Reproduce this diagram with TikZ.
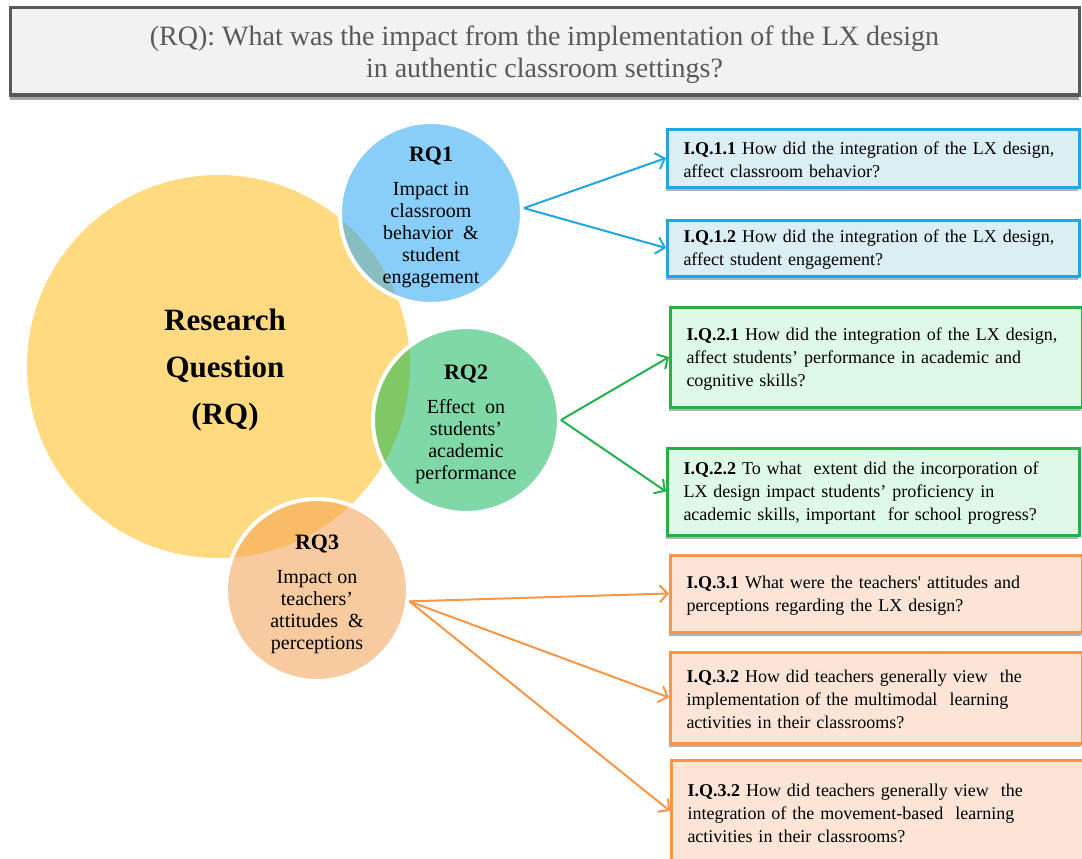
\documentclass[tikz,border=0pt]{standalone}
\usepackage{fontspec}
\setmainfont{Liberation Serif}
\usetikzlibrary{arrows.meta,shadows}

\definecolor{rqyellow}{HTML}{FFDA80}
\definecolor{rqblue}{HTML}{89CDF9}
\definecolor{ovblue}{HTML}{86BEC1}
\definecolor{rqgreen}{HTML}{80D8A9}
\definecolor{ovgreen}{HTML}{80C866}
\definecolor{rqorange}{HTML}{F8CAA0}
\definecolor{ovorange}{HTML}{F9BB66}
\definecolor{lnblue}{HTML}{20A6E6}
\definecolor{lngreen}{HTML}{22B24C}
\definecolor{lnorange}{HTML}{F79646}
\definecolor{bxblue}{HTML}{DAEEF3}
\definecolor{bxgreen}{HTML}{DEF9E6}
\definecolor{bxorange}{HTML}{FCE5D7}
\definecolor{titlegray}{HTML}{595959}
\definecolor{titlefill}{HTML}{F2F2F2}

% bold circle heading; the strut lowers the text block a little in its circle
\newcommand{\rqname}[1]{{\bfseries\fontsize{22pt}{22pt}\selectfont\rule{0pt}{23pt}#1}}
% bold question number with a strut that lowers the text in its box
\newcommand{\iqnum}[1]{\rule{0pt}{16.5pt}\textbf{#1}}

\begin{document}
\begin{tikzpicture}[x=1pt,y=-1pt,
  titlebox/.style={rectangle, fill=titlefill, draw=titlegray, line width=3pt,
    minimum width=1069pt, minimum height=87pt, text=titlegray, align=center,
    font=\fontsize{28pt}{32pt}\selectfont,
    drop shadow={shadow xshift=0pt, shadow yshift=-5pt, opacity=0.35, fill=black}},
  mainq/.style={circle, fill=rqyellow, minimum size=383pt, inner sep=0pt},
  maintext/.style={align=center, font=\bfseries\fontsize{31pt}{47pt}\selectfont},
  subq/.style={circle, minimum size=#1, inner sep=0pt, draw=white, line width=4pt,
    align=center, font=\fontsize{20pt}{22pt}\selectfont},
  iqbox/.style={rectangle, line width=3pt, anchor=west, inner xsep=16pt, inner ysep=3pt,
    text width=380pt, align=left, font=\fontsize{18pt}{23pt}\selectfont,
    drop shadow={shadow xshift=-2pt, shadow yshift=-4pt, opacity=0.3, fill=black}},
  bluebox/.style={iqbox, fill=bxblue, draw=lnblue},
  greenbox/.style={iqbox, fill=bxgreen, draw=lngreen},
  orangebox/.style={iqbox, fill=bxorange, draw=lnorange},
  conn/.style={line width=2pt, -{Straight Barb[length=8pt,width=17pt]}}
]
\useasboundingbox (0,0) rectangle (1082,859);

% overarching research question
\node[titlebox] (title) at (544.5,51.5)
  {\rule{0pt}{27pt}(RQ): What was the impact from the implementation of the LX design\\
   in authentic classroom settings?};

% main circle
\node[mainq] (rq) at (218.5,366.5) {};
\node[maintext] (rqt) at (225,370) {Research\\Question\\(RQ)};

% sub-question circles, each tinted where it overlaps the main circle
\node[subq=182pt, fill=rqblue,
  path picture={\fill[ovblue] (rq.center) circle (191.5pt);}] (rq1) at (431,213)
  {\rqname{RQ1}\\[12pt]Impact in\\classroom\\behavior \ \&\\student\\engagement};
\node[subq=186pt, fill=rqgreen,
  path picture={\fill[ovgreen] (rq.center) circle (191.5pt);}] (rq2) at (466,420)
  {\rqname{RQ2}\\[12pt]Effect \ on\\students’\\academic\\performance};
\node[subq=182pt, fill=rqorange,
  path picture={\fill[ovorange] (rq.center) circle (191.5pt);}] (rq3) at (317,590)
  {\rqname{RQ3}\\[12pt]Impact on\\teachers’\\attitudes \ \&\\perceptions};

% investigation questions
\node[bluebox, minimum height=58pt] (iq11) at (666,158)
  {\iqnum{I.Q.1.1} How did the integration of the LX design,\\affect classroom behavior?};
\node[bluebox, minimum height=56pt] (iq12) at (666,248)
  {\iqnum{I.Q.1.2} How did the integration of the LX design,\\affect student engagement?};
\node[greenbox, minimum height=100pt] (iq21) at (669,357)
  {\iqnum{I.Q.2.1} How did the integration of the LX design,\\affect students’ performance in academic and\\cognitive skills?};
\node[greenbox, minimum height=87pt] (iq22) at (666,491.5)
  {\iqnum{I.Q.2.2} To what \ extent did the incorporation of\\LX design impact students’ proficiency in\\academic skills, important \ for school progress?};
\node[orangebox, minimum height=77pt] (iq31) at (669,593.5)
  {\iqnum{I.Q.3.1} What were the teachers\textquotesingle\ attitudes and\\perceptions regarding the LX design?};
\node[orangebox, minimum height=91pt] (iq32) at (669,697.5)
  {\iqnum{I.Q.3.2} How did teachers generally view \ the\\implementation of the multimodal \ learning\\activities in their classrooms?};
\node[orangebox, minimum height=102pt] (iq33) at (670,811)
  {\iqnum{I.Q.3.2} How did teachers generally view \ the\\integration of the movement-based \ learning\\activities in their classrooms?};

% connectors
\draw[conn, lnblue] (rq1.3) -- (iq11.west);
\draw[conn, lnblue] (rq1.3) -- (iq12.west);
\draw[conn, lngreen] (rq2.east) -- (iq21.west);
\draw[conn, lngreen] (rq2.east) -- (iq22.west);
\draw[conn, lnorange] (rq3.-7) -- (iq31.west);
\draw[conn, lnorange] (rq3.-7) -- (iq32.west);
\draw[conn, lnorange] (rq3.-7) -- (iq33.west);
\end{tikzpicture}
\end{document}
